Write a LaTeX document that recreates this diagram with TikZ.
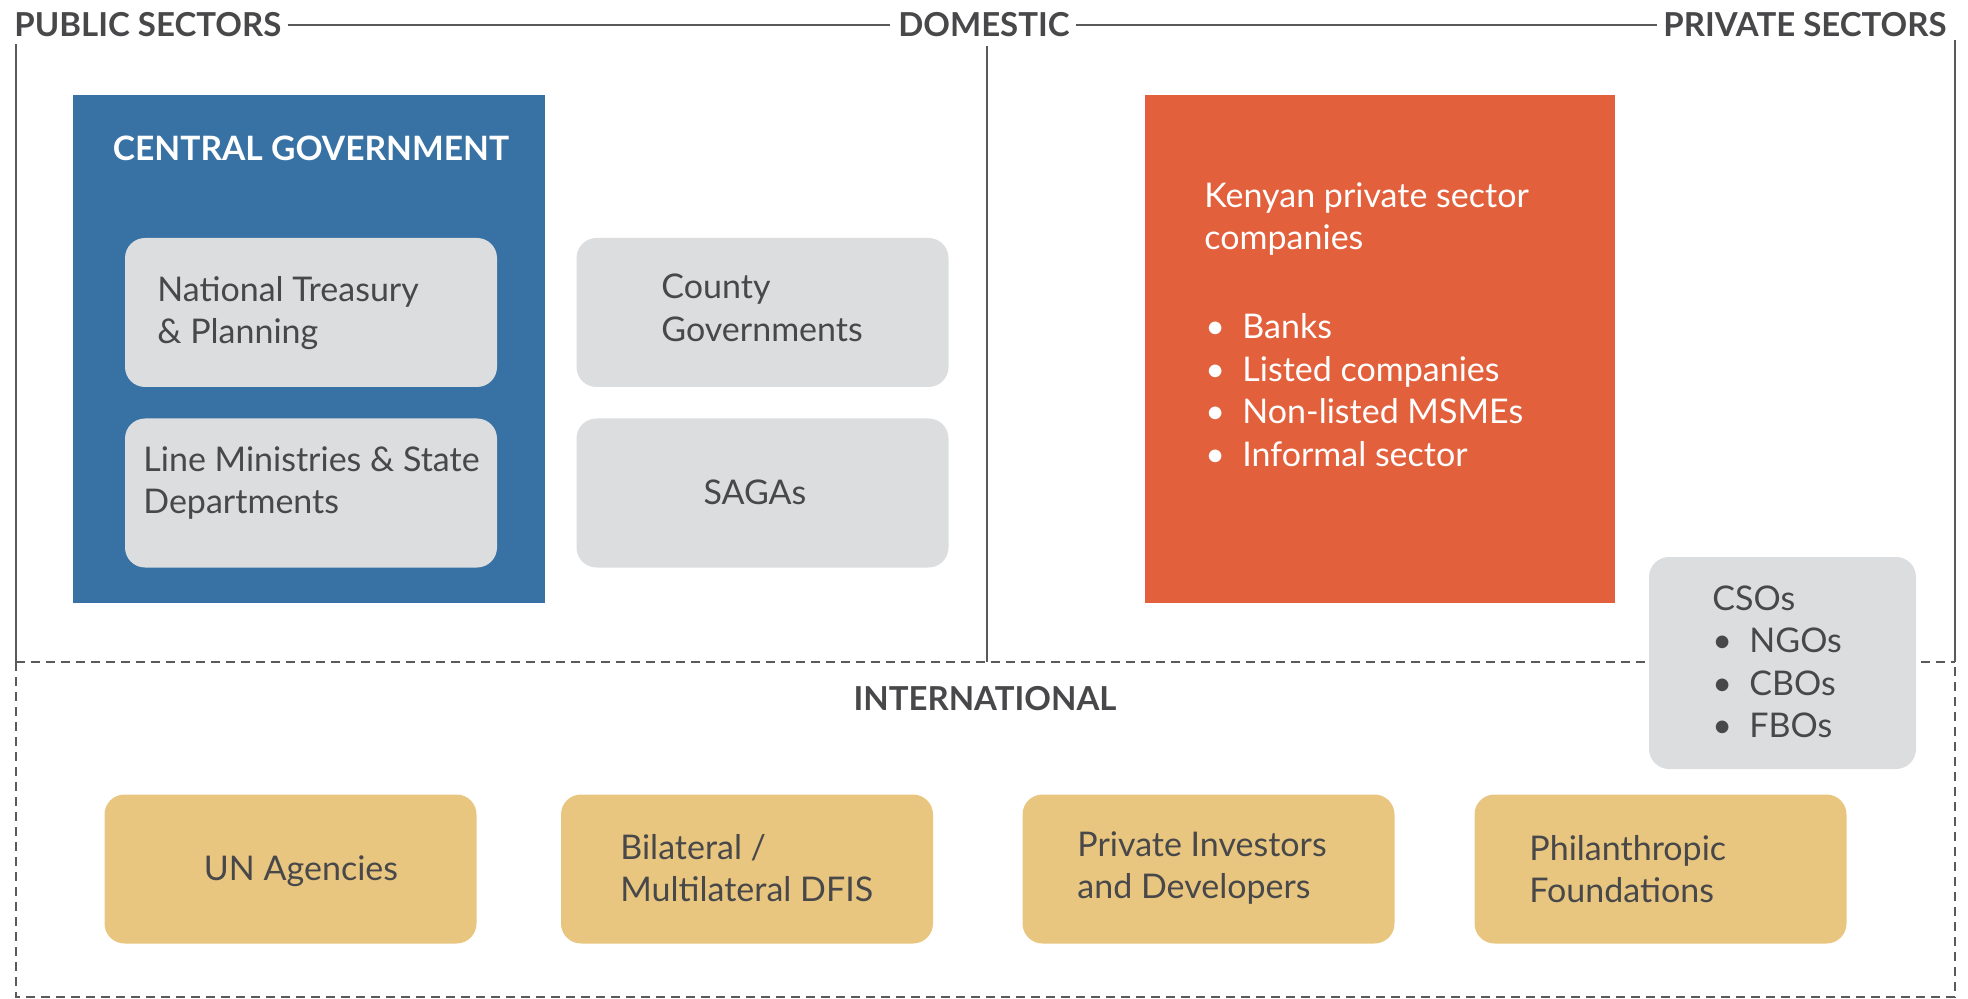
\documentclass[tikz,border=0pt]{standalone}
\usepackage{fontspec}
\setmainfont{Lato}
\newfontfamily\headfont{Lato}
\usetikzlibrary{positioning}
\definecolor{govblue}{HTML}{3871A3}
\definecolor{privorange}{HTML}{E2603B}
\definecolor{boxgray}{HTML}{DCDDDF}
\definecolor{intlgold}{HTML}{E8C67F}
\definecolor{inkgray}{HTML}{48484A}
\definecolor{rulegray}{HTML}{5A5A5C}
\tikzset{
  sectorlabel/.style = {font=\headfont\bfseries\fontsize{16.5}{18}\selectfont, text=inkgray, inner sep=0pt},
  solidrule/.style = {rulegray, line width=1pt},
  dashrule/.style = {rulegray, line width=0.9pt, dash pattern=on 4.5pt off 3pt},
  bigblock/.style = {minimum width=#1, minimum height=254pt, inner sep=0pt},
  softbox/.style = {rounded corners=10pt, minimum width=186pt, minimum height=74.5pt, inner sep=0pt},
  boxtext/.style = {font=\fontsize{17}{21.25}\selectfont, text=inkgray, align=left, inner sep=0pt},
}
\newcommand{\bulline}[1]{\makebox[18.5pt][l]{\textbullet}#1}

\begin{document}
\begin{tikzpicture}[x=0.5pt, y=-0.5pt]
		\useasboundingbox (0,0) rectangle (1968,999);

		% Headings
		\node[sectorlabel, anchor=west] (public) at (14,25) {PUBLIC SECTORS};
		\node[sectorlabel] (domestic) at (984,25) {DOMESTIC};
		\node[sectorlabel, anchor=east] (private) at (1947,25) {PRIVATE SECTORS};
		\draw[solidrule, line width=1.3pt] ([xshift=3pt]public.east) -- ([xshift=-4pt]domestic.west);
		\draw[solidrule, line width=1.3pt] ([xshift=3pt]domestic.east) -- ([xshift=-3pt]private.west);

		% Frame
		\coordinate (tl) at (16,44);
		\coordinate (tm) at (987,46);
		\coordinate (tr) at (1955,40);
		\coordinate (ml) at (16,662);
		\coordinate (mm) at (987,662);
		\coordinate (mr) at (1955,662);
		\coordinate (bl) at (16,997);
		\coordinate (br) at (1955,997);
		\draw[solidrule] (tl) -- (ml);
		\draw[solidrule] (tm) -- (mm);
		\draw[solidrule] (tr) -- (mr);
		\draw[dashrule] (ml) -- (mr);
		\draw[dashrule] (ml) -- (bl) -- (br) -- (mr);

		% Public
		\node[bigblock=236pt, fill=govblue] (central) at (309,349) {};
		\node[font=\headfont\bfseries\fontsize{16.8}{18}\selectfont, text=white, inner sep=0pt] (centraltitle) at (311,148) {CENTRAL GOVERNMENT};
		\node[softbox, fill=boxgray] (treasury) at (311,312.5) {};
		\node[boxtext, anchor=west] (treasurytext) at (157,313) {National Treasury\\\& Planning};
		\node[softbox, fill=boxgray] (ministries) at (311,493) {};
		\node[boxtext, anchor=west] (ministriestext) at (143,483) {Line Ministries \& State\\Departments};
		\node[softbox, fill=boxgray] (county) at (762.5,312.5) {};
		\node[boxtext, anchor=west] (countytext) at (661,308) {County\\Governments};
		\node[softbox, fill=boxgray] (sagas) at (762.5,493) {};
		\node[boxtext] (sagastext) at (755,492) {SAGAs};

		% Private
		\node[bigblock=235pt, fill=privorange] (kenyan) at (1380,349) {};
		\node[boxtext, text=white, anchor=west] (kenyantext) at (1204,219) {Kenyan private sector\\companies};
		\node[boxtext, text=white, anchor=west] (kenyanlist) at (1205,390)
			{\bulline{Banks}\\\bulline{Listed companies}\\\bulline{Non-listed MSMEs}\\\bulline{Informal sector}};
		\node[softbox, fill=boxgray, minimum width=133.5pt, minimum height=106pt] (csos) at (1782.5,663) {};
		\node[boxtext, anchor=west] (csostext) at (1712,662)
			{CSOs\\\bulline{NGOs}\\\bulline{CBOs}\\\bulline{FBOs}};

		% International
		\node[sectorlabel] (international) at (985,699) {INTERNATIONAL};
		\node[softbox, fill=intlgold] (un) at (290.5,869) {};
		\node[boxtext] (untext) at (301,871) {UN Agencies};
		\node[softbox, fill=intlgold] (bilateral) at (747,869) {};
		\node[boxtext, anchor=west] (bilateraltext) at (620,868) {Bilateral /\\Multilateral DFIS};
		\node[softbox, fill=intlgold] (investors) at (1208.5,869) {};
		\node[boxtext, anchor=west] (investorstext) at (1077,868) {Private Investors\\and Developers};
		\node[softbox, fill=intlgold] (philanthropic) at (1660.5,869) {};
		\node[boxtext, anchor=west] (philanthropictext) at (1529,869) {Philanthropic\\Foundations};
	\end{tikzpicture}
\end{document}
